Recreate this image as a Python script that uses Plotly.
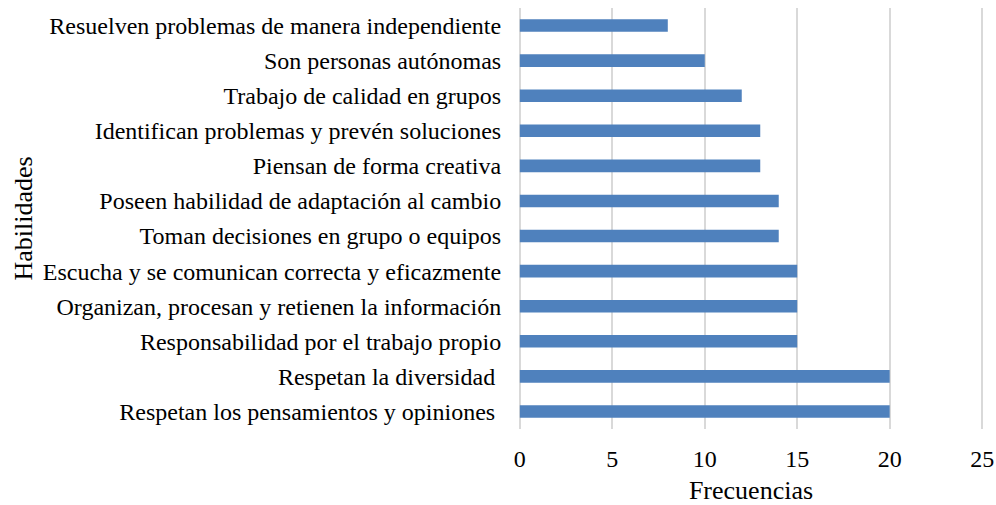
import plotly.graph_objects as go

categories = [
    "Resuelven problemas de manera independiente",
    "Son personas autónomas",
    "Trabajo de calidad en grupos",
    "Identifican problemas y prevén soluciones",
    "Piensan de forma creativa",
    "Poseen habilidad de adaptación al cambio",
    "Toman decisiones en grupo o equipos",
    "Escucha y se comunican correcta y eficazmente",
    "Organizan, procesan y retienen la información",
    "Responsabilidad por el trabajo propio",
    "Respetan la diversidad ",
    "Respetan los pensamientos y opiniones ",
]
values = [8, 10, 12, 13, 13, 14, 14, 15, 15, 15, 20, 20]
x_ticks = [0, 5, 10, 15, 20, 25]

FONT = "Liberation Serif, Times New Roman, serif"

fig = go.Figure(
    go.Bar(
        y=categories,
        x=values,
        orientation="h",
        marker=dict(color="#4f81bd", line=dict(width=0)),
        width=0.36,
    )
)

fig.update_layout(
    width=996,
    height=505,
    margin=dict(l=518, r=12, t=8, b=76),
    paper_bgcolor="white",
    plot_bgcolor="white",
    font=dict(family=FONT, size=24, color="black"),
    showlegend=False,
)
fig.update_xaxes(
    range=[-0.1, 25.1],
    tickvals=x_ticks,
    showgrid=True,
    gridcolor="#d9d9d9",
    gridwidth=2,
    zeroline=True,
    zerolinecolor="#d9d9d9",
    zerolinewidth=2,
    showline=False,
    ticks="outside",
    ticklen=8,
    tickcolor="rgba(0,0,0,0)",
    automargin=False,
    title=dict(text="Frecuencias", font=dict(size=26), standoff=13),
)
fig.update_yaxes(
    autorange="reversed",
    showgrid=False,
    zeroline=False,
    showline=False,
    ticks="outside",
    ticklen=11,
    tickcolor="rgba(0,0,0,0)",
    automargin=False,
    title=dict(text="Habilidades", font=dict(size=26), standoff=2),
)

fig.write_html(
    "out.html",
    config={"displayModeBar": False},
    post_script="document.body.style.margin='0';document.body.style.overflow='hidden';",
)
